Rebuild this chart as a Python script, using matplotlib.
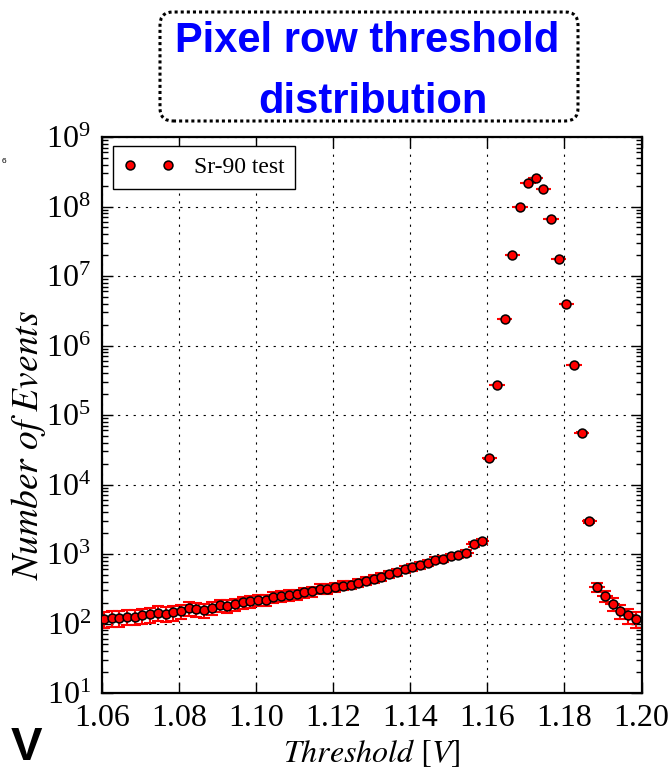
import numpy as np
import matplotlib
matplotlib.use("Agg")
import matplotlib.pyplot as plt
from matplotlib.patches import FancyBboxPatch
from matplotlib.lines import Line2D
from matplotlib.ticker import LogLocator, FixedLocator, FormatStrFormatter, NullFormatter

plt.rcParams["font.family"] = ["Liberation Serif", "DejaVu Serif"]
plt.rcParams["mathtext.fontset"] = "stix"

# Threshold scan points [V]
threshold_v = [
    1.0605, 1.0625, 1.0645, 1.0665, 1.0685, 1.0705, 1.0725, 1.0745, 1.0765, 1.0785,
    1.0805, 1.0825, 1.0845, 1.0865, 1.0885, 1.0905, 1.0925, 1.0945, 1.0965, 1.0985,
    1.1005, 1.1025, 1.1045, 1.1065, 1.1085, 1.1105, 1.1125, 1.1145, 1.1165, 1.1185,
    1.1205, 1.1225, 1.1245, 1.1265, 1.1285, 1.1305, 1.1325, 1.1345, 1.1365, 1.1385,
    1.1405, 1.1425, 1.1445, 1.1465, 1.1485, 1.1505, 1.1525, 1.1545, 1.1565, 1.1585,
    1.1605, 1.1625, 1.1645, 1.1665, 1.1685, 1.1705, 1.1725, 1.1745, 1.1765, 1.1785,
    1.1805, 1.1825, 1.1845, 1.1865, 1.1885, 1.1905, 1.1925, 1.1945, 1.1965, 1.1985,
]

# Number of events recorded at each threshold
events = [
    115, 119, 120, 126, 126, 131, 136, 143, 138, 144,
    149, 165, 161, 157, 167, 182, 178, 188, 201, 210,
    218, 218, 243, 246, 255, 263, 281, 290, 315, 316,
    336, 351, 362, 386, 415, 436, 464, 513, 548, 605,
    647, 684, 741, 827, 847, 923, 955, 1033, 1378, 1523,
    2.4e4, 2.7e5, 2.4e6, 2.0e7, 9.7e7, 2.2e8, 2.6e8, 1.8e8, 6.6e7, 1.75e7,
    4.0e6, 5.3e5, 5.6e4, 2.96e3, 336, 249, 192, 151, 131, 118,
]

x_ticks = [1.06, 1.08, 1.10, 1.12, 1.14, 1.16, 1.18, 1.20]
y_decades = [1e1, 1e2, 1e3, 1e4, 1e5, 1e6, 1e7, 1e8, 1e9]
series_label = "Sr-90 test"
title_lines = ["Pixel row threshold", "distribution"]

x = np.array(threshold_v)
n = np.array(events, dtype=float)
# counting uncertainty (scaled) and scan step half-width
y_err = 2.8 * np.sqrt(n)
x_err = 0.002

W, H = 668, 769
fig = plt.figure(figsize=(W / 100, H / 100), dpi=100)
ax = fig.add_axes([102 / W, 1 - 693 / H, (641.5 - 102) / W, (693 - 137) / H])

ax.errorbar(x, n, xerr=x_err, fmt="none", ecolor="#ff0000", elinewidth=1.5, zorder=2)
ax.errorbar(x, n, yerr=y_err, fmt="none", ecolor="#ff0000", elinewidth=1.5,
            capsize=4.5, capthick=1.5, zorder=2)
ax.plot(x, n, linestyle="none", marker="o", markersize=6.4,
        markerfacecolor="#ff0000", markeredgecolor="black", markeredgewidth=1.1, zorder=3)

ax.set_yscale("log")
ax.set_xlim(1.06, 1.20)
ax.set_ylim(1e1, 1e9)
ax.xaxis.set_major_locator(FixedLocator(x_ticks))
ax.xaxis.set_major_formatter(FormatStrFormatter("%.2f"))
ax.yaxis.set_major_locator(FixedLocator(y_decades))
ax.yaxis.set_minor_locator(LogLocator(base=10, subs=np.arange(2, 10), numticks=20))
ax.yaxis.set_minor_formatter(NullFormatter())

ax.tick_params(which="both", direction="in", top=True, right=True, width=1.0)
ax.tick_params(which="major", length=8, labelsize=23, pad=8)
ax.tick_params(which="minor", length=4)
for sp in ax.spines.values():
    sp.set_linewidth(1.6)

ax.set_axisbelow(True)
ax.grid(True, which="major", color="black", linestyle=(0, (2, 5)), linewidth=0.8)

ax.set_xlabel(r"$Threshold\ [V]$", fontsize=23)
ax.set_ylabel(r"$Number\ of\ Events$", fontsize=27)
ax.xaxis.set_label_coords(0.5, -0.08)
ax.yaxis.set_label_coords(-0.10, 0.446)

proxy = Line2D([], [], linestyle="none", marker="o", markersize=6.4,
               markerfacecolor="#ff0000", markeredgecolor="black", markeredgewidth=1.1)
leg = ax.legend([proxy], [series_label], loc="upper left", bbox_to_anchor=(0.02, 0.984),
                borderaxespad=0, numpoints=2, fontsize=17, fancybox=False,
                edgecolor="black", framealpha=1, handlelength=2.2, borderpad=0.45)
leg.get_frame().set_linewidth(1.0)

# heading box
box = FancyBboxPatch((1.60, (H - 121) / 100), 4.18, 1.09,
                     boxstyle="round,pad=0,rounding_size=0.13",
                     transform=fig.dpi_scale_trans, facecolor="white",
                     edgecolor="black", linewidth=2.2, linestyle=(0, (1, 1)))
fig.patches.append(box)
fig.text(367 / W, 1 - 52 / H, title_lines[0], ha="center", va="baseline",
         fontsize=30, fontweight="bold", color="#0000ff", family="Liberation Sans")
fig.text(373 / W, 1 - 113 / H, title_lines[1], ha="center", va="baseline",
         fontsize=30, fontweight="bold", color="#0000ff", family="Liberation Sans")

fig.text(26 / W, 1 - 760 / H, "V", ha="center", va="baseline",
         fontsize=34, fontweight="bold", color="black", family="Liberation Sans")
fig.text(4 / W, 1 - 163 / H, "6", ha="center", va="baseline",
         fontsize=6, color="black", family="Liberation Sans")

fig.savefig("out.png", dpi=100)
